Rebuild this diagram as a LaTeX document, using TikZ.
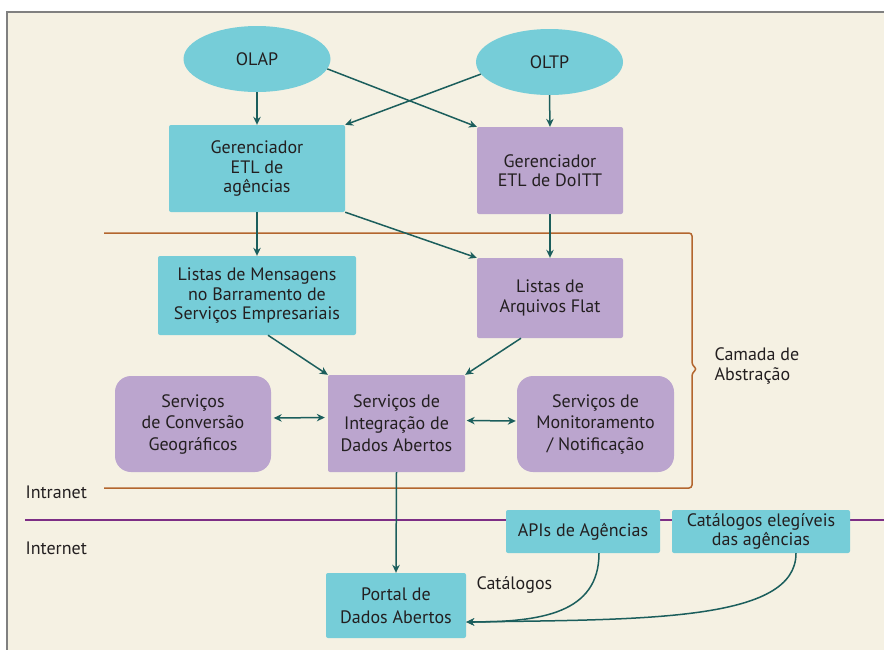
\documentclass[tikz,border=0pt]{standalone}
\usepackage{fontspec}
\setmainfont{PT Sans}
\usetikzlibrary{shapes.geometric,arrows.meta,calc}
\definecolor{bg}{HTML}{F5F1E3}
\definecolor{cy}{HTML}{76CDD8}
\definecolor{pu}{HTML}{BBA5CE}
\definecolor{ar}{HTML}{1B5E5C}
\definecolor{br}{HTML}{B3662E}
\definecolor{pl}{HTML}{7D2E85}
\definecolor{tx}{HTML}{231F20}
\definecolor{fr}{HTML}{808080}
\begin{document}
\begin{tikzpicture}[x=1pt,y=-1pt,
 every node/.style={font=\fontsize{18}{19.5}\selectfont, text=tx},
 lead/.style={font=\fontsize{18}{#1}\selectfont},
 box/.style={rectangle, rounded corners=2pt, align=center, inner sep=0pt},
 cbox/.style={box, fill=cy},
 pbox/.style={box, fill=pu},
 rbox/.style={box, fill=pu, rounded corners=16pt},
 oval/.style={ellipse, fill=cy, minimum width=147pt, minimum height=66pt, inner sep=0pt},
 arr/.style={draw=ar, line width=1.5pt, -{Stealth[length=8pt,width=7.5pt]}},
 darr/.style={draw=ar, line width=1.5pt, {Stealth[length=8pt,width=7.5pt]}-{Stealth[length=8pt,width=7.5pt]}},
 lbl/.style={anchor=west, align=left}
]
\useasboundingbox (0,0) rectangle (884,649);
\clip (0,0) rectangle (884,649);
\fill[white] (0,0) rectangle (884,649);
\fill[bg] (7,12) rectangle (900,670);
\draw[fr, line width=1.5pt] (7,670) -- (7,12) -- (900,12);

% brace (abstraction layer)
\draw[br, line width=1.5pt, rounded corners=3pt] (104,233) -- (692,233) -- (692,365) -- (697,369) -- (692,373) -- (692,488) -- (104,488);
% intranet / internet boundary
\draw[pl, line width=2.2pt] (25,520) -- (900,520);

% nodes
\node[oval] (olap) at (257,59) {OLAP};
\node[oval] (oltp) at (549.5,62) {OLTP};
\node[cbox, minimum width=176pt, minimum height=87pt] (ga) at (257,168.5) {Gerenciador\\ETL de\\agências};
\node[pbox, minimum width=146pt, minimum height=87pt] (doitt) at (550,170.5) {Gerenciador\\ETL de DoITT};
\node[cbox, minimum width=198pt, minimum height=79pt] (msg) at (257,295.5) {Listas de Mensagens\\no Barramento de\\Serviços Empresariais};
\node[pbox, minimum width=146pt, minimum height=80pt] (flat) at (550,298) {Listas de\\Arquivos Flat};
\node[rbox, lead=21.5, minimum width=156pt, minimum height=96pt] (conv) at (193,424) {Serviços\\de Conversão\\Geográficos};
\node[pbox, lead=22, minimum width=137pt, minimum height=97pt] (integ) at (396.5,423.5) {Serviços de\\Integração de\\Dados Abertos};
\node[rbox, lead=21.5, minimum width=157pt, minimum height=96pt] (mon) at (595.5,424) {Serviços de\\Monitoramento\\/ Notificação};
\node[cbox, minimum width=154pt, minimum height=43pt] (apis) at (583,531.5) {APIs de Agências};
\node[cbox, lead=19, minimum width=178pt, minimum height=43pt] (cat) at (761,531.5) {Catálogos elegíveis\\das agências};
\node[cbox, lead=23, minimum width=140pt, minimum height=65pt] (portal) at (396,605.5) {Portal de\\Dados Abertos};

% labels
\node[lbl] (intranet) at (22,492) {Intranet};
\node[lbl] (internet) at (22,548) {Internet};
\node[lbl] (catl) at (473,585) {Catálogos};
\node[lbl] (camada) at (711,366) {Camada de\\Abstração};

% connectors
\draw[arr] (olap.south) -- (ga.north);
\draw[arr] (oltp.south) -- (doitt.north);
\draw[arr] (olap.-8) -- (doitt.north west);
\draw[arr] (oltp.190) -- (ga.north east);
\draw[arr] (ga.south) -- (msg.north);
\draw[arr] (doitt.south) -- (flat.north);
\draw[arr] (ga.south east) -- (flat.north west);
\draw[arr] ([xshift=11pt]msg.south) -- (integ.north west);
\draw[arr] ([xshift=-29pt]flat.south) -- (integ.north east);
\draw[darr, shorten <=2.5pt, shorten >=3pt] ([yshift=6pt]conv.east) -- ([yshift=6pt]integ.west);
\draw[darr, shorten <=1.5pt, shorten >=1pt] ([yshift=3pt]integ.east) -- ([yshift=3pt]mon.west);
\draw[arr] (integ.south) -- (portal.north);
\draw[arr] ([xshift=16pt]apis.south) .. controls ([xshift=16pt,yshift=-60pt]apis.south) and ([xshift=75pt,yshift=-16.5pt]portal.east) .. ([yshift=-16.5pt]portal.east);
\draw[arr] ([xshift=35pt]cat.south) .. controls ([xshift=35pt,yshift=-68pt]cat.south) and ([xshift=180pt,yshift=-14pt]portal.east) .. ([yshift=-16.5pt]portal.east);
\end{tikzpicture}
\end{document}
